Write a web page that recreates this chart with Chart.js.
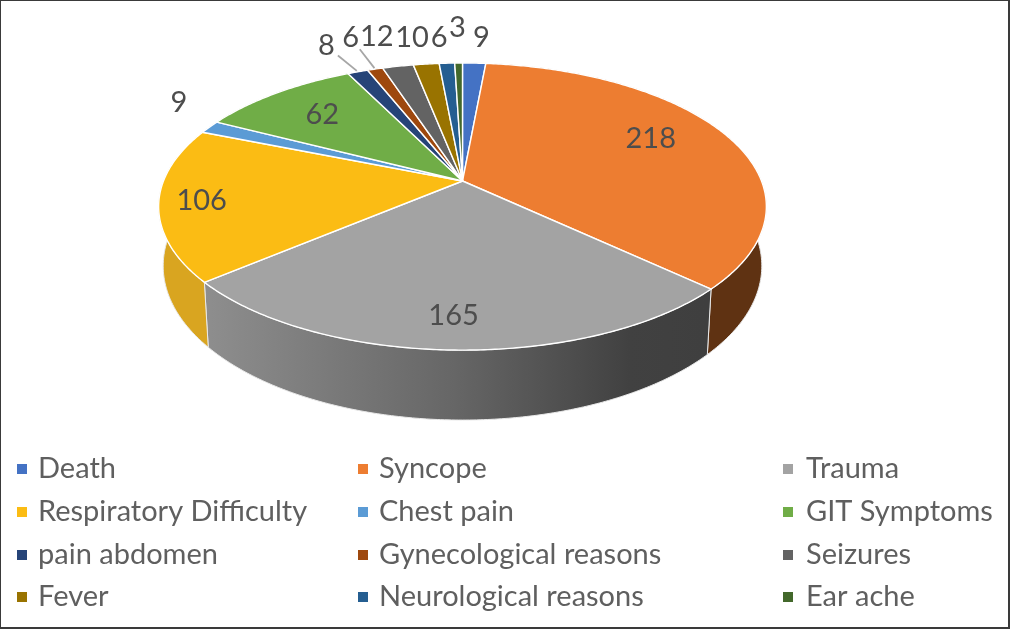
<!DOCTYPE html>
<html>
<head>
<meta charset="utf-8">
<style>
html,body{margin:0;padding:0;background:#fff}
#box{position:relative;width:1010px;height:629px;overflow:hidden}
canvas{display:block;filter:blur(0.4px)}
</style>
<script src="https://cdn.jsdelivr.net/npm/chart.js@4"></script>
</head>
<body>
<div id="box"><canvas id="c" width="1010" height="629"></canvas></div>
<script>
const categories = ["Death","Syncope","Trauma","Respiratory Difficulty","Chest pain","GIT Symptoms","pain abdomen","Gynecological reasons","Seizures","Fever","Neurological reasons","Ear ache"];
const patientCounts = [9,218,165,106,9,62,8,6,12,10,6,3];
const sliceColors = ["#4472c4","#ed7d31","#a3a3a3","#fbbc14","#5b9bd5","#70ad47","#264478","#9e480e","#636363","#997300","#255e91","#43682b"];
const wallColors = ["#36599a","#5f3212","#808080","#d9a520","#477aa8","#588836","#1c335a","#7a370a","#4b4b4b","#745800","#1c476e","#324e20"];

// projection of the flat pie onto the tilted disc
const CX = 462.5, CY = 181, AX = 299, BY = 139, K = 0.178, DEPTH = 57.5, DROP_X = 0.985;
function project(angle, r, drop) {
  const u = r * Math.cos(angle), v = r * Math.sin(angle), w = 1 - K * v;
  return { x: CX + AX * u / w * (drop ? DROP_X : 1), y: CY + BY * v / w + (drop ? DEPTH / w : 0) };
}
function trace(ctx, a0, a1, r, drop, first) {
  const n = Math.max(2, Math.ceil(Math.abs(a1 - a0) / 0.01));
  for (let i = 0; i <= n; i++) {
    const p = project(a0 + (a1 - a0) * i / n, r, drop);
    if (i === 0 && first) ctx.moveTo(p.x, p.y); else ctx.lineTo(p.x, p.y);
  }
}
// label placement around the disc: radial factor and angular nudge (degrees)
const LABEL_R = [1.262,0.738,0.828,0.862,1.225,0.73,1.296,1.342,1.318,1.277,1.264,1.369];
const LABEL_TURN = [0.9,-4.8,0.3,0,6,0,-1.1,0,-0.8,-1.1,-0.8,0];
const LEGEND_COLS = [{s:17,t:38},{s:358,t:379},{s:783,t:806}];
const LEGEND_ROWS = [469,512,555,597];
const FONT = '29px Lato, "Open Sans", sans-serif';

const pie3d = {
  id: 'pie3d',
  beforeDatasetDraw(chart) {
    const ctx = chart.ctx, arcs = chart.getDatasetMeta(0).data;
    ctx.save();
    // side wall
    arcs.forEach((arc, i) => {
      const a0 = arc.startAngle, a1 = arc.endAngle;
      ctx.beginPath();
      trace(ctx, a0, a1, 1, false, true);
      trace(ctx, a1, a0, 1, true, false);
      ctx.closePath();
      if (categories[i] === 'Trauma') {
        const g = ctx.createLinearGradient(205, 0, 705, 0);
        g.addColorStop(0, '#8e8e8e');
        g.addColorStop(0.5, '#666666');
        g.addColorStop(0.85, '#414141');
        g.addColorStop(1, '#3f3f3f');
        ctx.fillStyle = g;
      } else ctx.fillStyle = wallColors[i];
      ctx.fill();
      ctx.strokeStyle = '#e8e8e8';
      ctx.lineWidth = 1;
      ctx.stroke();
    });
    // top face
    arcs.forEach((arc, i) => {
      ctx.beginPath();
      ctx.moveTo(CX, CY);
      trace(ctx, arc.startAngle, arc.endAngle, 1, false, false);
      ctx.closePath();
      ctx.fillStyle = sliceColors[i];
      ctx.fill();
      ctx.strokeStyle = '#ffffff';
      ctx.lineWidth = 1.4;
      ctx.lineJoin = 'round';
      ctx.stroke();
    });
    ctx.restore();
    return false;
  },
  afterDatasetsDraw(chart) {
    const ctx = chart.ctx, arcs = chart.getDatasetMeta(0).data;
    ctx.save();
    // leader lines for the two thinnest outside labels
    ctx.strokeStyle = '#a6a6a6';
    ctx.lineWidth = 1.8;
    [6, 7].forEach(i => {
      const mid = (arcs[i].startAngle + arcs[i].endAngle) / 2;
      const a = project(mid, 1.01, false);
      const t = project(mid + LABEL_TURN[i] * Math.PI / 180, LABEL_R[i], false);
      const b = { x: a.x + (t.x - a.x) * 0.62, y: a.y + (t.y - a.y) * 0.62 };
      ctx.beginPath(); ctx.moveTo(a.x, a.y); ctx.lineTo(b.x, b.y); ctx.stroke();
    });
    // value labels
    ctx.font = FONT;
    ctx.fillStyle = '#4d4d4d';
    ctx.textAlign = 'center';
    ctx.textBaseline = 'middle';
    arcs.forEach((arc, i) => {
      const mid = (arc.startAngle + arc.endAngle) / 2 + LABEL_TURN[i] * Math.PI / 180;
      const p = project(mid, LABEL_R[i], false);
      ctx.fillText(String(patientCounts[i]), p.x, p.y);
    });
    // legend
    ctx.textAlign = 'left';
    categories.forEach((name, i) => {
      const col = LEGEND_COLS[i % 3], y = LEGEND_ROWS[Math.floor(i / 3)];
      ctx.fillStyle = sliceColors[i];
      ctx.fillRect(col.s, y - 5, 10, 10);
      ctx.fillStyle = '#5f5f5f';
      ctx.fillText(name, col.t, y);
    });
    // frame
    ctx.strokeStyle = '#3a3a3a';
    ctx.lineWidth = 2;
    ctx.strokeRect(0, 0, 1009, 628);
    ctx.restore();
  }
};

new Chart(document.getElementById('c'), {
  type: 'pie',
  data: { labels: categories, datasets: [{ data: patientCounts, backgroundColor: sliceColors }] },
  options: {
    responsive: false,
    animation: false,
    plugins: { legend: { display: false }, tooltip: { enabled: false } }
  },
  plugins: [pie3d]
});
</script>
</body>
</html>
